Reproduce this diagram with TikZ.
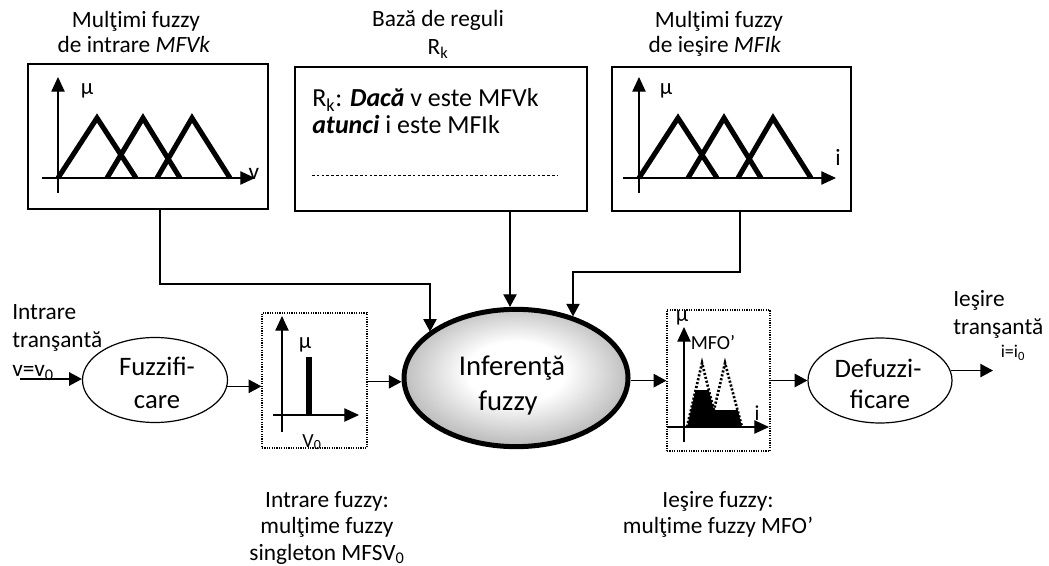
\documentclass[tikz,border=0pt]{standalone}
\usepackage{fontspec}
\setmainfont{Carlito}
\usetikzlibrary{arrows.meta,shapes.geometric,fit}
\pgfdeclareradialshading{infsh}{\pgfpoint{0bp}{3bp}}{color(0bp)=(white); color(11bp)=(white); color(25bp)=(black!25); color(50bp)=(black!25)}
\begin{document}
\begin{tikzpicture}[x=0.75pt,y=-0.75pt,
  lab/.style={font=\fontsize{17.5}{21}\selectfont, inner sep=0, anchor=base},
  labl/.style={lab, anchor=base west},
  rule/.style={font=\fontsize{19.5}{23}\selectfont, inner sep=0, anchor=base west},
  elab/.style={font=\fontsize{20}{24}\selectfont, inner sep=0, anchor=base},
  ilab/.style={font=\fontsize{21.5}{26}\selectfont, inner sep=0, anchor=base},
  small/.style={font=\fontsize{15}{18}\selectfont, inner sep=0},
  box/.style={draw, line width=1pt, inner sep=0},
  dbox/.style={draw, line width=0.9pt, dash pattern=on 0.9pt off 0.9pt, inner sep=0},
  arr/.style={-{Triangle[length=9.5pt,width=10pt]}, line width=1pt},
  ax/.style={-{Triangle[length=11pt,width=10pt]}, line width=0.9pt},
  tri/.style={line width=3.8pt, line join=miter, line cap=butt},
  dtri/.style={line width=2pt, dash pattern=on 1.6pt off 1.4pt},
]
\useasboundingbox (0,0) rectangle (1049,566);

% ---------- top left box: input fuzzy sets
\node[box, fit={(28,64) (268,209)}] (mfv) {};
\node[lab] (t1a) at (136,28) {Mulţimi fuzzy};
\node[lab] (t1b) at (134,53) {de intrare \textit{MFVk}};
\draw[ax] (58,193) -- (58,77);
\draw[ax] (42,178) -- (255,178);
\draw[tri] (58,178) -- (97,118) -- (136,178);
\draw[tri] (107,178) -- (143,118) -- (180,178);
\draw[tri] (157,178) -- (192,118) -- (230,178);
\node[small, font=\fontsize{17}{20}\selectfont] (mu1) at (87,91) {μ};
\node[lab] (v1) at (254,180) {v};

% ---------- top middle box: rule base
\node[box, fit={(295,67) (587,211)}] (rb) {};
\node[lab] (t2a) at (438,27) {Bază de reguli};
\node[lab] (t2b) at (438,55) {R\textsubscript{k}};
\node[rule] (r1) at (312,107) {R\textsubscript{k}: \textbf{\textit{Dacă}} v este MFVk};
\node[rule] (r2) at (312,134) {\textbf{\textit{atunci}} i este MFIk};
\draw[line width=0.7pt, dash pattern=on 2pt off 1.6pt] (312,175) -- (557,175);

% ---------- top right box: output fuzzy sets
\node[box, fit={(612,67) (851,211)}] (mfi) {};
\node[lab] (t3a) at (719,28) {Mulţimi fuzzy};
\node[lab] (t3b) at (715,53) {de ieşire \textit{MFIk}};
\draw[ax] (639,193) -- (639,77);
\draw[ax] (623,178) -- (836,178);
\draw[tri] (639,178) -- (678,118) -- (717,178);
\draw[tri] (688,178) -- (724,118) -- (761,178);
\draw[tri] (738,178) -- (773,118) -- (811,178);
\node[small, font=\fontsize{17}{20}\selectfont] (mu3) at (666,91) {μ};
\node[lab] (i3) at (838,166) {i};

% ---------- crisp input
\node[labl] (in1) at (12,320) {Intrare};
\node[labl] (in2) at (12,348) {tranşantă};
\node[labl] (in3) at (12,377) {v=v\textsubscript{0}};
\coordinate (inp) at (20,379);

% ---------- fuzzification
\node[ellipse, draw, line width=0.9pt, minimum width=108.75pt, minimum height=63.75pt, inner sep=0] (fuzz) at (155,380) {};
\node[elab] (f1) at (157,375) {Fuzzifi-};
\node[elab] (f2) at (157,408) {care};

% ---------- singleton box
\node[dbox, fit={(262,313) (367,448)}] (sing) {};
\draw[ax] (282,432) -- (282,316);
\draw[ax] (273,415) -- (359,415);
\fill (306,357) rectangle (312,415);
\node[small, font=\fontsize{17}{20}\selectfont] (mu2) at (305,345) {μ};
\node[lab, font=\fontsize{15}{18}\selectfont] (v0) at (312,447) {V\textsubscript{0}};

% ---------- inference
\node[ellipse, draw, line width=3.75pt, shading=infsh, minimum width=168pt, minimum height=103pt, inner sep=0] (inf) at (516,378) {};
\node[ilab] (i1) at (512,376) {Inferenţă};
\node[ilab] (i2) at (508,411) {fuzzy};

% ---------- output fuzzy set box
\node[dbox, fit={(667,310) (770,451)}] (mfo) {};
\fill (687,427) -- (695.7,390) -- (708.8,390) -- (713.75,410) -- (737.7,410) -- (742,427) -- cycle;
\draw[dtri] (687,427) -- (702,363) -- (718,427);
\draw[dtri] (710,427) -- (725,363) -- (742,427);
\draw[ax] (684,442) -- (684,327);
\draw[ax] (667,427) -- (769,427);
\node[small, font=\fontsize{17}{20}\selectfont] (mu4) at (682,318) {μ};
\node[small] (mfol) at (713,343) {MFO’};
\node[lab, font=\fontsize{16}{19}\selectfont] (i4) at (757,420) {i};

% ---------- defuzzification
\node[ellipse, draw, line width=0.9pt, minimum width=108pt, minimum height=63.75pt, inner sep=0] (defz) at (880,380.5) {};
\node[elab] (d1) at (878,378) {Defuzzi-};
\node[elab] (d2) at (880,408) {ficare};

% ---------- crisp output
\node[labl] (o1) at (953,307) {Ieşire};
\node[labl] (o2) at (953,335) {tranşantă};
\node[lab, font=\fontsize{13.5}{16}\selectfont] (o3) at (1013,358) {i=i\textsubscript{0}};
\coordinate (outp) at (993,373);

% ---------- bottom captions
\node[lab] (b1) at (327,507) {Intrare fuzzy:};
\node[lab] (b2) at (327,533) {mulţime fuzzy};
\node[lab] (b3) at (327,560) {singleton MFSV\textsubscript{0}};
\node[lab] (c1) at (718,507) {Ieşire fuzzy:};
\node[lab] (c2) at (718,533) {mulţime fuzzy MFO’};

% ---------- connectors
\coordinate (k0) at (160,284);
\coordinate (k1) at (430,284);
\coordinate (k2) at (510,250);
\coordinate (k3) at (740,272);
\coordinate (k4) at (573,272);
\draw[arr] (mfv.south -| k0) -- (k0) -- (k1) -- (k1 |- inf.152);
\draw[arr] (rb.south -| k2) -- (k2 |- inf.95);
\draw[arr] (mfi.south -| k3) -- (k3) -- (k4) -- (k4 |- inf.47);
\draw[arr] (inp) -- (inp -| fuzz.west);
\draw[arr] (fuzz.-5) -- (fuzz.-5 -| sing.west);
\draw[arr] ([yshift=-1pt]sing.east) -- ([yshift=-1pt]sing.east -| inf.west);
\draw[arr] ([yshift=-2pt]inf.east) -- ([yshift=-2pt]inf.east -| mfo.west);
\draw[arr] (mfo.east) -- (mfo.east -| defz.west);
\draw[arr] (defz.8) -- (defz.8 -| outp);
\end{tikzpicture}
\end{document}
